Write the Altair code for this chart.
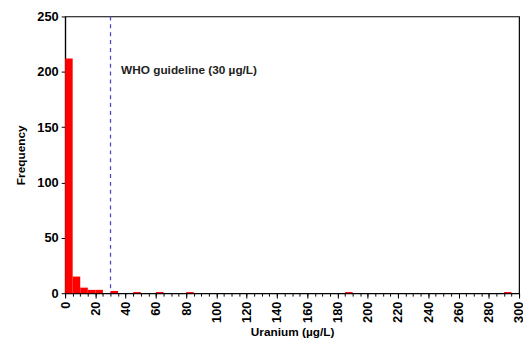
import altair as alt
import pandas as pd

# Histogram of uranium concentrations (bin width 5 µg/L)
bin_start = [0, 5, 10, 15, 20, 30, 45, 60, 80, 185, 290]
counts = [212, 15, 5, 3, 3, 2, 1, 1, 1, 1, 1]
bin_width = 5

guideline = [30]
annotation = ["WHO guideline (30 \u00b5g/L)"]
annotation_x = [37]
annotation_y = [202]

x_labels = list(range(0, 301, 20))
x_minor = list(range(0, 301, 5))
y_ticks = [0, 50, 100, 150, 200, 250]

df = pd.DataFrame({"start": bin_start, "count": counts})
df["end"] = df["start"] + bin_width

FONT = "Liberation Sans"

xscale = alt.Scale(domain=[0, 300], nice=False, zero=False)
yscale = alt.Scale(domain=[0, 250], nice=False)

bars = alt.Chart(df).mark_bar(color="#ff0000").encode(
    x=alt.X("start:Q", scale=xscale,
            axis=alt.Axis(title="Uranium (\u00b5g/L)", values=x_labels, orient="bottom",
                          labelAngle=-90, labelAlign="right", labelBaseline="middle",
                          labelOverlap=False, labelBound=False, labelFlush=False,
                          grid=False, tickColor="black", domainColor="black",
                          tickSize=5, labelPadding=3, titlePadding=4)),
    x2="end:Q",
    y=alt.Y("count:Q", scale=yscale,
            axis=alt.Axis(title="Frequency", values=y_ticks, grid=False,
                          tickColor="black", domainColor="black", tickSize=4,
                          labelPadding=3, titlePadding=10)),
    y2=alt.datum(0),
)

rule_df = pd.DataFrame({"x": guideline})
rule = alt.Chart(rule_df).mark_rule(color="#4a4ac8", strokeDash=[4, 4], strokeWidth=1.3).encode(
    x=alt.X("x:Q", scale=xscale,
            axis=alt.Axis(title=None, values=x_minor, orient="bottom", labels=False,
                          domain=False, grid=False, tickColor="black", tickSize=3)),
)

text_df = pd.DataFrame({"x": annotation_x, "y": annotation_y, "t": annotation})
text = alt.Chart(text_df).mark_text(align="left", baseline="middle", font=FONT,
                                     fontSize=12, fontWeight="bold", color="#222222").encode(
    x=alt.X("x:Q", scale=xscale, axis=None),
    y=alt.Y("y:Q", scale=yscale),
    text="t:N",
)

chart = alt.layer(bars, rule, text).resolve_scale(x="independent").properties(
    width=461, height=281,
    autosize=alt.AutoSizeParams(type="none"),
    padding={"left": 58, "top": 6, "right": 4, "bottom": 48},
    background="white",
).configure_view(
    stroke="black", strokeWidth=1.2
).configure_axis(
    labelFont=FONT, titleFont=FONT, labelFontSize=13, titleFontSize=12,
    labelFontWeight="bold", titleFontWeight="bold", labelColor="black", titleColor="black",
    domainWidth=1.2,
)

chart.save("out.html", embed_options={"renderer": "svg", "actions": False})
